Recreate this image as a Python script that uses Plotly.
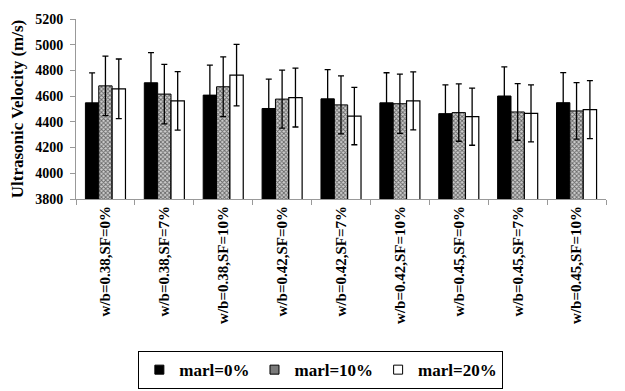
import plotly.graph_objects as go

categories = ["w/b=0.38,SF=0%", "w/b=0.38,SF=7%", "w/b=0.38,SF=10%",
              "w/b=0.42,SF=0%", "w/b=0.42,SF=7%", "w/b=0.42,SF=10%",
              "w/b=0.45,SF=0%", "w/b=0.45,SF=7%", "w/b=0.45,SF=10%"]

marl0 = [4548, 4704, 4608, 4504, 4579, 4548, 4464, 4601, 4549]
marl10 = [4680, 4616, 4673, 4577, 4532, 4541, 4472, 4477, 4485]
marl20 = [4657, 4563, 4763, 4589, 4445, 4563, 4440, 4466, 4495]

err0 = [233, 234, 233, 228, 228, 234, 223, 226, 234]
err10 = [232, 231, 233, 225, 226, 230, 223, 220, 220]
err20 = [232, 228, 239, 229, 223, 226, 222, 221, 225]

series_names = ["marl=0%", "marl=10%", "marl=20%"]
y_ticks = [3800, 4000, 4200, 4400, 4600, 4800, 5000, 5200]

FONT = "Liberation Serif, Times New Roman, serif"

fig = go.Figure()

def errbar(vals):
    return dict(type="data", array=vals, visible=True, color="black",
                thickness=1.3, width=3)

gray_pattern = dict(shape="x", size=3, solidity=0.5, fgcolor="#000000", bgcolor="#cfcfcf")

fig.add_trace(go.Bar(
    x=categories, y=marl0, name=series_names[0], showlegend=False,
    marker=dict(color="black", line=dict(color="black", width=1)),
    error_y=errbar(err0),
))
fig.add_trace(go.Bar(
    x=categories, y=marl10, name=series_names[1], showlegend=False,
    marker=dict(color="white", line=dict(color="black", width=1),
                pattern=gray_pattern),
    error_y=errbar(err10),
))
fig.add_trace(go.Bar(
    x=categories, y=marl20, name=series_names[2], showlegend=False,
    marker=dict(color="white", line=dict(color="black", width=1.2)),
    error_y=errbar(err20),
))

# legend entries (small square symbols like the reference)
legend_fill = ["black", "#7a7a7a", "white"]
for name, fill in zip(series_names, legend_fill):
    fig.add_trace(go.Scatter(
        x=[None], y=[None], mode="markers", name="<b>" + name + "</b>",
        marker=dict(symbol="square", size=9, color=fill,
                    line=dict(color="black", width=1)),
    ))

# the page body adds an 8px offset, so the figure is 8px smaller
fig.update_layout(
    width=617, height=383,
    margin=dict(l=68, r=19, t=11, b=192, autoexpand=False),
    paper_bgcolor="white", plot_bgcolor="white",
    barmode="group", bargap=0.32, bargroupgap=0,
    font=dict(family=FONT, color="black", size=14),
    showlegend=True,
    legend=dict(orientation="h", x=0.462, xanchor="center",
                y=-0.845, yanchor="top",
                bordercolor="black", borderwidth=1,
                font=dict(family=FONT, size=17, color="black"),
                itemwidth=30, traceorder="normal",
                tracegroupgap=0),
)

fig.update_yaxes(
    range=[3800, 5200], tickvals=y_ticks,
    ticktext=["<b>%d</b>" % v for v in y_ticks],
    showgrid=False, zeroline=False,
    showline=True, linecolor="#999999", linewidth=1,
    ticks="outside", ticklen=5, tickcolor="#999999",
    ticklabelstandoff=4, automargin=False,
    tickfont=dict(family=FONT, size=14, color="black"),
    title=dict(text="<b>Ultrasonic Velocity (m/s)</b>",
               font=dict(family=FONT, size=17, color="black"),
               standoff=8),
)
fig.update_xaxes(
    tickvals=categories, ticktext=["<b>" + c + "</b>" for c in categories],
    showgrid=False, zeroline=False,
    showline=True, linecolor="#999999", linewidth=1,
    ticks="outside", ticklen=5, tickcolor="#999999", tickson="boundaries",
    tickangle=-90, automargin=False,
    tickfont=dict(family=FONT, size=15, color="black"),
)

fig.write_html("out.html")
